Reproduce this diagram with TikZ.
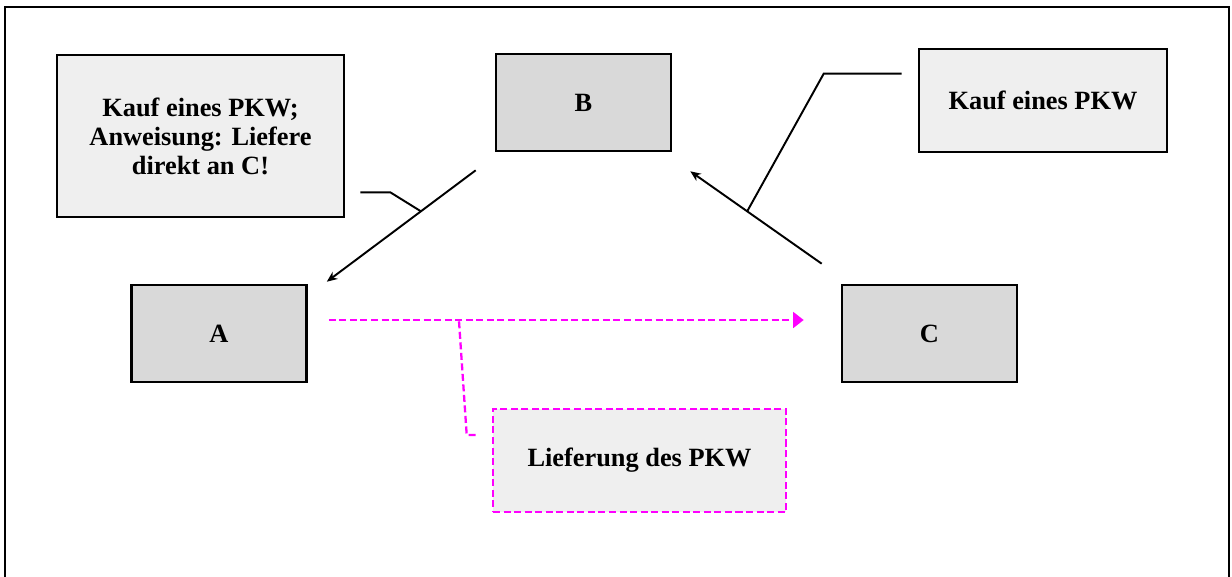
\documentclass[tikz,border=0pt]{standalone}
\usepackage{fontspec}
\setmainfont{Liberation Serif}
\usetikzlibrary{arrows.meta}
\definecolor{colparty}{HTML}{D9D9D9}
\definecolor{colnote}{HTML}{EFEFEF}
\definecolor{coldeliv}{HTML}{FF00FF}
\tikzset{
    box/.style={
        draw=black, line width=1.5pt, align=center,
        font=\fontsize{15}{16.5}\selectfont\bfseries, inner sep=0pt,
    },
    party/.style={box, fill=colparty,
        minimum width=3.5cm, minimum height=1.94cm},
    note/.style={box, fill=colnote},
    delivnote/.style={note, draw=coldeliv, dashed,
        dash pattern=on 4pt off 2pt},
    flow/.style={-{Stealth[length=6pt, width=5pt]}, line width=1.1pt},
    callout/.style={line width=1.1pt},
    deliv/.style={-{Triangle[length=6pt, width=9pt]}, line width=1.3pt,
        draw=coldeliv, dash pattern=on 4pt off 2pt},
    delivcallout/.style={line width=1.3pt, draw=coldeliv,
        dash pattern=on 4pt off 2pt},
}

\begin{document}
\begin{tikzpicture}[x=0.02cm, y=-0.02cm]

\useasboundingbox (0, 0) rectangle (1232, 576);

% ===== FRAME =====
\draw[line width=1.5pt] (5, 580) -- (5, 7) -- (1229, 7) -- (1229, 580);

% ===== NODES =====
\node[party] (B) at (583.5, 102.5) {B};
\node[party] (A) at (219, 333.5) {A};
\node[party] (C) at (929.5, 333.5) {C};
\node[note, minimum width=5.74cm, minimum height=3.24cm] (auftrag) at (200.5, 136)
    {Kauf eines PKW;\\Anweisung: Liefere\\direkt an C!};
\node[note, minimum width=4.96cm, minimum height=2.06cm] (kauf) at (1043, 100.5) {Kauf eines PKW};
\node[delivnote, minimum width=5.86cm, minimum height=2.06cm] (liefer) at (639.5, 460.5) {Lieferung des PKW};

% ===== EDGES =====
\draw[flow] ([shift={(-19,18)}]B.south west) -- coordinate[pos=0.368] (onBA) ([shift={(19,-2)}]A.north east);
\draw[flow] ([shift={(-19,-20)}]C.north west) -- coordinate[pos=0.567] (onCB) ([shift={(18,19)}]B.south east);
\draw[deliv] ([shift={(21,-13.5)}]A.east) -- coordinate[pos=0.274] (onAC) ([shift={(-37,-13.5)}]C.west);

% ===== CALLOUTS =====
\draw[callout] ([shift={(15,-26)}]auftrag.south east) -- ++(30, 0) -- (onBA);
\draw[callout] ([shift={(-16,26)}]kauf.north west) -- ++(-78, 0) -- (onCB);
\draw[delivcallout] ([shift={(-16,-25.5)}]liefer.west) -- ++(-9, 0) -- (onAC);

\end{tikzpicture}
\end{document}
